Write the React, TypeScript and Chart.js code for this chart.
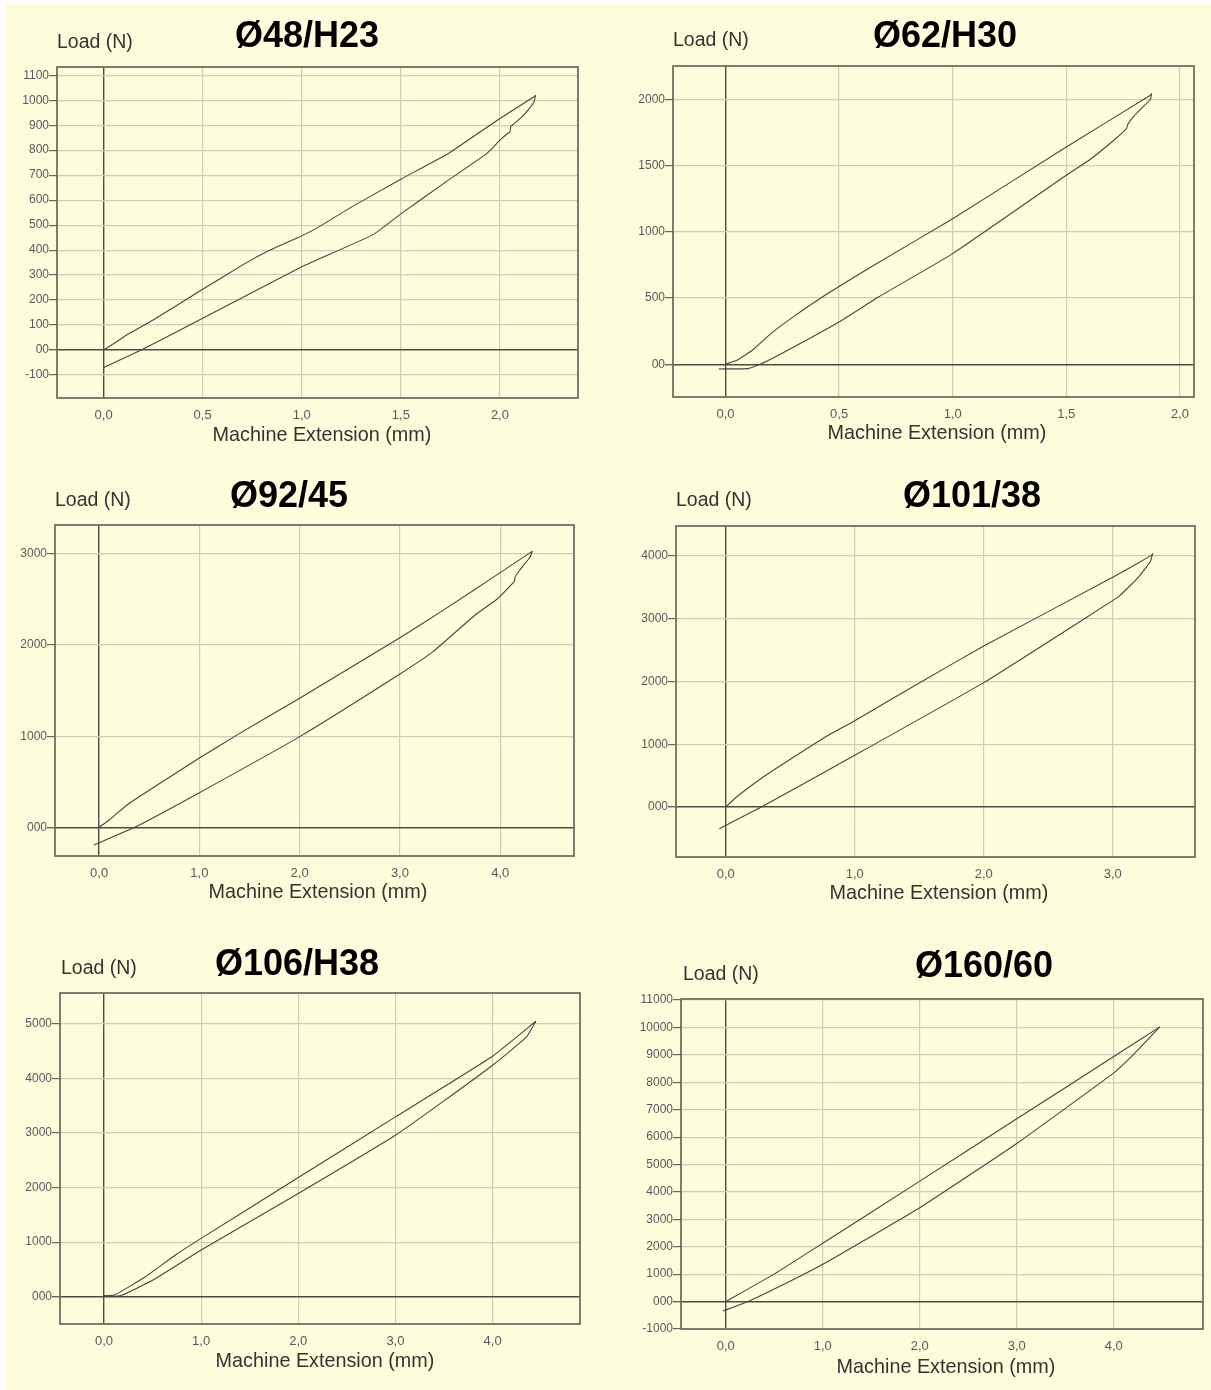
import React, { useEffect, useRef } from "react";
import { Chart, registerables } from "chart.js";

Chart.register(...registerables);

// ---------- Panel 1 : Ø48/H23 ----------
const p1Title = "Ø48/H23";
const p1XTicks = [0, 0.5, 1.0, 1.5, 2.0];
const p1XTickLabels = ["0,0", "0,5", "1,0", "1,5", "2,0"];
const p1YTicks = [-100, 0, 100, 200, 300, 400, 500, 600, 700, 800, 900, 1000, 1100];
const p1YTickLabels = ["-100", "00", "100", "200", "300", "400", "500", "600", "700", "800", "900", "1000", "1100"];
const p1LoadingExt = [0, 0.06, 0.116, 0.25, 0.5, 0.7, 0.84, 1.0, 1.08, 1.25, 1.5, 1.74, 2.0, 2.17, 2.18];
const p1LoadingLoad = [0, 30, 60, 120, 243, 340, 400, 457, 490, 572, 684, 787, 927, 1013, 1020];
const p1UnloadingExt = [2.18, 2.17, 2.12, 2.07, 2.055, 2.05, 2.04, 2.0, 1.93, 1.74, 1.5, 1.36, 1.0, 0.5, 0.19, 0];
const p1UnloadingLoad = [1020, 990, 940, 905, 895, 872, 868, 840, 784, 680, 545, 462, 333, 127, 0, -70];

// ---------- Panel 2 : Ø62/H30 ----------
const p2Title = "Ø62/H30";
const p2XTicks = [0, 0.5, 1.0, 1.5, 2.0];
const p2XTickLabels = ["0,0", "0,5", "1,0", "1,5", "2,0"];
const p2YTicks = [0, 500, 1000, 1500, 2000];
const p2YTickLabels = ["00", "500", "1000", "1500", "2000"];
const p2LoadingExt = [0, 0.05, 0.118, 0.2, 0.3, 0.438, 0.64, 1.0, 1.5, 1.87, 1.875];
const p2LoadingLoad = [0, 30, 106, 232, 360, 521, 735, 1100, 1641, 2032, 2045];
const p2UnloadingExt = [1.875, 1.87, 1.8, 1.77, 1.765, 1.7, 1.6, 1.5, 1.0, 0.673, 0.5, 0.19, 0.14, 0.1, -0.03];
const p2UnloadingLoad = [2045, 2000, 1880, 1810, 1780, 1679, 1541, 1428, 836, 508, 320, 30, -8, -33, -35];

// ---------- Panel 3 : Ø92/45 ----------
const p3Title = "Ø92/45";
const p3XTicks = [0, 1, 2, 3, 4];
const p3XTickLabels = ["0,0", "1,0", "2,0", "3,0", "4,0"];
const p3YTicks = [0, 1000, 2000, 3000];
const p3YTickLabels = ["000", "1000", "2000", "3000"];
const p3LoadingExt = [0, 0.1, 0.278, 0.58, 1.0, 1.385, 2.0, 3.0, 3.41, 4.0, 4.3, 4.32];
const p3LoadingLoad = [0, 80, 245, 464, 760, 1020, 1416, 2081, 2367, 2795, 3015, 3030];
const p3UnloadingExt = [4.32, 4.3, 4.2, 4.15, 4.14, 3.98, 3.75, 3.33, 3.0, 2.0, 1.0, 0.355, -0.054];
const p3UnloadingLoad = [3030, 2970, 2830, 2751, 2700, 2514, 2330, 1928, 1683, 995, 380, 0, -194];

// ---------- Panel 4 : Ø101/38 ----------
const p4Title = "Ø101/38";
const p4XTicks = [0, 1, 2, 3];
const p4XTickLabels = ["0,0", "1,0", "2,0", "3,0"];
const p4YTicks = [0, 1000, 2000, 3000, 4000];
const p4YTickLabels = ["000", "1000", "2000", "3000", "4000"];
const p4LoadingExt = [0, 0.083, 0.29, 0.528, 0.795, 1.0, 1.507, 2.0, 3.0, 3.3, 3.31];
const p4LoadingLoad = [0, 159, 478, 797, 1143, 1375, 1985, 2566, 3660, 4010, 4040];
const p4UnloadingExt = [3.31, 3.29, 3.2, 3.05, 2.78, 2.0, 1.0, 0.276, -0.05];
const p4UnloadingLoad = [4040, 3904, 3665, 3360, 3000, 1982, 824, 0, -345];

// ---------- Panel 5 : Ø106/H38 ----------
const p5Title = "Ø106/H38";
const p5XTicks = [0, 1, 2, 3, 4];
const p5XTickLabels = ["0,0", "1,0", "2,0", "3,0", "4,0"];
const p5YTicks = [0, 1000, 2000, 3000, 4000, 5000];
const p5YTickLabels = ["000", "1000", "2000", "3000", "4000", "5000"];
const p5LoadingExt = [0, 0.11, 0.426, 0.74, 1.0, 2.0, 3.0, 4.0, 4.446];
const p5LoadingLoad = [18, 30, 366, 770, 1068, 2183, 3292, 4402, 5042];
const p5UnloadingExt = [4.446, 4.35, 4.0, 3.5, 3.0, 2.0, 1.0, 0.505, 0.19, 0.12, 0];
const p5UnloadingLoad = [5042, 4755, 4237, 3585, 2957, 1891, 854, 305, 31, 8, 15];

// ---------- Panel 6 : Ø160/60 ----------
const p6Title = "Ø160/60";
const p6XTicks = [0, 1, 2, 3, 4];
const p6XTickLabels = ["0,0", "1,0", "2,0", "3,0", "4,0"];
const p6YTicks = [-1000, 0, 1000, 2000, 3000, 4000, 5000, 6000, 7000, 8000, 9000, 10000, 11000];
const p6YTickLabels = ["-1000", "000", "1000", "2000", "3000", "4000", "5000", "6000", "7000", "8000", "9000", "10000", "11000"];
const p6LoadingExt = [0, 0.506, 1.0, 2.0, 3.0, 4.0, 4.475];
const p6LoadingLoad = [0, 1020, 2130, 4395, 6670, 8940, 10022];
const p6UnloadingExt = [4.475, 4.22, 4.0, 3.0, 2.0, 1.0, 0.703, 0.229, -0.028];
const p6UnloadingLoad = [10022, 9074, 8345, 5769, 3425, 1359, 813, 0, -343];

const yAxisTitle = "Load (N)";
const xAxisTitle = "Machine Extension (mm)";

// ---------- layout (page pixels) ----------
type Rect = { left: number; top: number; right: number; bottom: number };
type PanelCfg = {
  title: string;
  xTicks: number[];
  xTickLabels: string[];
  yTicks: number[];
  yTickLabels: string[];
  loadingExt: number[];
  loadingLoad: number[];
  unloadingExt: number[];
  unloadingLoad: number[];
  plot: Rect;
  xRange: [number, number];
  yRange: [number, number];
  titlePos: [number, number];
  loadPos: [number, number];
  axisPos: [number, number];
};

const panels: PanelCfg[] = [
  {
    title: p1Title, xTicks: p1XTicks, xTickLabels: p1XTickLabels, yTicks: p1YTicks, yTickLabels: p1YTickLabels,
    loadingExt: p1LoadingExt, loadingLoad: p1LoadingLoad, unloadingExt: p1UnloadingExt, unloadingLoad: p1UnloadingLoad,
    plot: { left: 57, top: 67, right: 578, bottom: 398 }, xRange: [-0.235, 2.394], yRange: [-192, 1133],
    titlePos: [307, 35], loadPos: [57, 42], axisPos: [322, 435],
  },
  {
    title: p2Title, xTicks: p2XTicks, xTickLabels: p2XTickLabels, yTicks: p2YTicks, yTickLabels: p2YTickLabels,
    loadingExt: p2LoadingExt, loadingLoad: p2LoadingLoad, unloadingExt: p2UnloadingExt, unloadingLoad: p2UnloadingLoad,
    plot: { left: 673, top: 66, right: 1194, bottom: 397 }, xRange: [-0.231, 2.062], yRange: [-247, 2253],
    titlePos: [945, 35], loadPos: [673, 40], axisPos: [937, 433],
  },
  {
    title: p3Title, xTicks: p3XTicks, xTickLabels: p3XTickLabels, yTicks: p3YTicks, yTickLabels: p3YTickLabels,
    loadingExt: p3LoadingExt, loadingLoad: p3LoadingLoad, unloadingExt: p3UnloadingExt, unloadingLoad: p3UnloadingLoad,
    plot: { left: 55, top: 525, right: 574, bottom: 856 }, xRange: [-0.44, 4.736], yRange: [-315, 3318],
    titlePos: [289, 495], loadPos: [55, 500], axisPos: [318, 892],
  },
  {
    title: p4Title, xTicks: p4XTicks, xTickLabels: p4XTickLabels, yTicks: p4YTicks, yTickLabels: p4YTickLabels,
    loadingExt: p4LoadingExt, loadingLoad: p4LoadingLoad, unloadingExt: p4UnloadingExt, unloadingLoad: p4UnloadingLoad,
    plot: { left: 676, top: 526, right: 1195, bottom: 857 }, xRange: [-0.386, 3.638], yRange: [-797, 4478],
    titlePos: [972, 495], loadPos: [676, 500], axisPos: [939, 893],
  },
  {
    title: p5Title, xTicks: p5XTicks, xTickLabels: p5XTickLabels, yTicks: p5YTicks, yTickLabels: p5YTickLabels,
    loadingExt: p5LoadingExt, loadingLoad: p5LoadingLoad, unloadingExt: p5UnloadingExt, unloadingLoad: p5UnloadingLoad,
    plot: { left: 60, top: 993, right: 580, bottom: 1324 }, xRange: [-0.453, 4.9], yRange: [-499, 5560],
    titlePos: [297, 963], loadPos: [61, 968], axisPos: [325, 1361],
  },
  {
    title: p6Title, xTicks: p6XTicks, xTickLabels: p6XTickLabels, yTicks: p6YTicks, yTickLabels: p6YTickLabels,
    loadingExt: p6LoadingExt, loadingLoad: p6LoadingLoad, unloadingExt: p6UnloadingExt, unloadingLoad: p6UnloadingLoad,
    plot: { left: 681, top: 999, right: 1203, bottom: 1329 }, xRange: [-0.462, 4.92], yRange: [-1000, 11040],
    titlePos: [984, 965], loadPos: [683, 974], axisPos: [946, 1367],
  },
];

const Y_AXIS_W = 52;
const X_AXIS_H = 30;
const PAD_TOP = 16;
const PAD_RIGHT = 12;
const FONT = "'Liberation Sans', Arial, Helvetica, sans-serif";
const BG = "#fefddb";
const GRID = "#cdcdb8";
const ZERO = "#4c4c46";
const FRAME = "#707064";
const TICK_TEXT = "#555a62";
const CURVE = "#454545";

const framePlugin = {
  id: "frame",
  afterDraw(chart: any) {
    const { ctx, chartArea: a } = chart;
    ctx.save();
    ctx.strokeStyle = FRAME;
    ctx.lineWidth = 1.8;
    ctx.strokeRect(a.left, a.top, a.right - a.left, a.bottom - a.top);
    ctx.restore();
  },
};

function toPoints(xs: number[], ys: number[]) {
  return xs.map((x, i) => ({ x, y: ys[i] }));
}

function Panel({ cfg }: { cfg: PanelCfg }) {
  const ref = useRef<HTMLCanvasElement>(null);
  const { plot } = cfg;
  const canvasLeft = plot.left - Y_AXIS_W;
  const canvasTop = plot.top - PAD_TOP;
  const w = plot.right + PAD_RIGHT - canvasLeft;
  const h = plot.bottom + X_AXIS_H - canvasTop;

  useEffect(() => {
    if (!ref.current) return;
    const lineStyle = {
      showLine: true,
      borderColor: CURVE,
      borderWidth: 1.1,
      pointRadius: 0,
      pointHoverRadius: 0,
      tension: 0.12,
      fill: false,
    };
    const chart = new Chart(ref.current, {
      type: "scatter",
      data: {
        datasets: [
          { ...lineStyle, label: "Loading", data: toPoints(cfg.loadingExt, cfg.loadingLoad) },
          { ...lineStyle, label: "Unloading", data: toPoints(cfg.unloadingExt, cfg.unloadingLoad) },
        ],
      },
      options: {
        responsive: false,
        maintainAspectRatio: false,
        animation: false,
        events: [],
        layout: { padding: { top: PAD_TOP, right: PAD_RIGHT, left: 0, bottom: 0 } },
        plugins: { legend: { display: false }, tooltip: { enabled: false }, title: { display: false } },
        scales: {
          x: {
            type: "linear",
            position: "bottom",
            min: cfg.xRange[0],
            max: cfg.xRange[1],
            afterBuildTicks: (scale: any) => {
              scale.ticks = cfg.xTicks.map((v) => ({ value: v }));
            },
            afterFit: (scale: any) => {
              scale.height = X_AXIS_H;
            },
            border: { display: false },
            grid: {
              drawTicks: false,
              color: (c: any) => (c.tick && c.tick.value === 0 ? ZERO : GRID),
              lineWidth: (c: any) => (c.tick && c.tick.value === 0 ? 1.4 : 1.2),
            },
            ticks: {
              autoSkip: false,
              maxRotation: 0,
              minRotation: 0,
              padding: 10,
              color: TICK_TEXT,
              font: { family: FONT, size: 13 },
              callback: (v: any) => {
                const i = cfg.xTicks.indexOf(Number(v));
                return i >= 0 ? cfg.xTickLabels[i] : "";
              },
            },
          },
          y: {
            type: "linear",
            position: "left",
            min: cfg.yRange[0],
            max: cfg.yRange[1],
            afterBuildTicks: (scale: any) => {
              scale.ticks = cfg.yTicks.map((v) => ({ value: v }));
            },
            afterFit: (scale: any) => {
              scale.width = Y_AXIS_W;
            },
            border: { display: false },
            grid: {
              drawTicks: true,
              tickLength: 8,
              tickColor: "#666660",
              color: (c: any) => (c.tick && c.tick.value === 0 ? ZERO : GRID),
              lineWidth: (c: any) => (c.tick && c.tick.value === 0 ? 1.4 : 1.2),
            },
            ticks: {
              autoSkip: false,
              padding: 0,
              color: TICK_TEXT,
              font: { family: FONT, size: 12 },
              callback: (v: any) => {
                const i = cfg.yTicks.indexOf(Number(v));
                return i >= 0 ? cfg.yTickLabels[i] : "";
              },
            },
          },
        },
      },
      plugins: [framePlugin],
    } as any);
    return () => chart.destroy();
  }, [cfg]);

  const textBase: React.CSSProperties = {
    position: "absolute",
    whiteSpace: "nowrap",
    lineHeight: 1,
    fontFamily: FONT,
  };

  return (
    <>
      <canvas
        ref={ref}
        width={w}
        height={h}
        style={{ position: "absolute", left: canvasLeft, top: canvasTop, width: w, height: h }}
      />
      <div
        style={{
          ...textBase,
          left: cfg.titlePos[0],
          top: cfg.titlePos[1],
          transform: "translate(-50%, -50%)",
          fontSize: 36,
          fontWeight: "bold",
          color: "#000",
        }}
      >
        {cfg.title}
      </div>
      <div
        style={{
          ...textBase,
          left: cfg.loadPos[0],
          top: cfg.loadPos[1],
          transform: "translateY(-50%)",
          fontSize: 19.5,
          color: "#333",
        }}
      >
        {yAxisTitle}
      </div>
      <div
        style={{
          ...textBase,
          left: cfg.axisPos[0],
          top: cfg.axisPos[1],
          transform: "translate(-50%, -50%)",
          fontSize: 19.8,
          color: "#333",
        }}
      >
        {xAxisTitle}
      </div>
    </>
  );
}

export default function App() {
  return (
    <div
      style={{
        position: "absolute",
        left: 0,
        top: 0,
        width: 1211,
        height: 1390,
        background: "#ffffff",
        overflow: "hidden",
      }}
    >
      <div style={{ position: "absolute", left: 6, top: 4, width: 1205, height: 1386, background: BG }} />
      {panels.map((p, i) => (
        <Panel key={i} cfg={p} />
      ))}
    </div>
  );
}
